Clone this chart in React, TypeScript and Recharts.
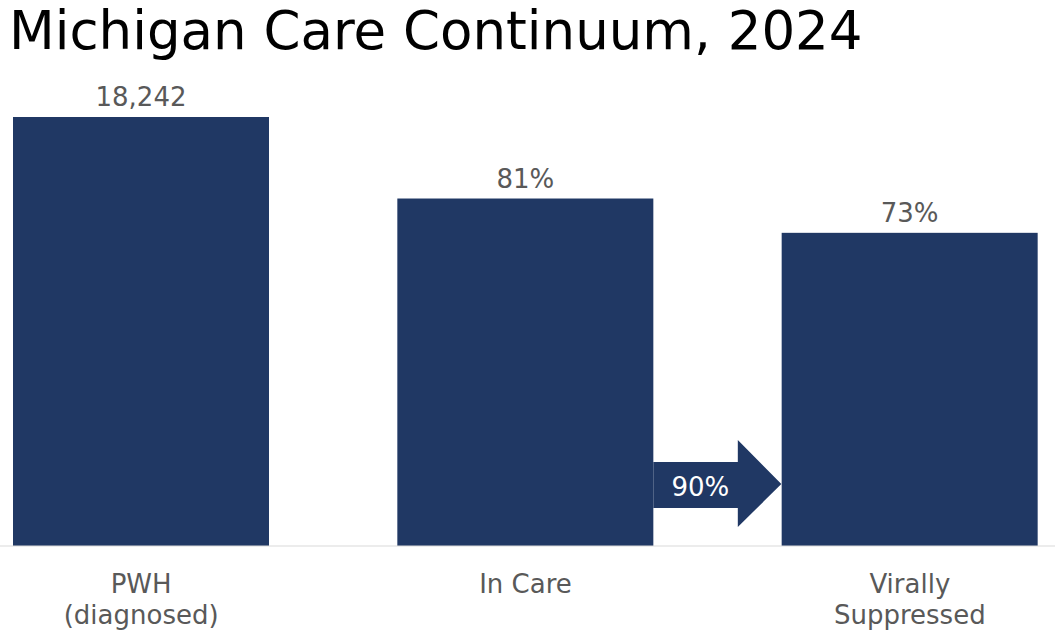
import { BarChart, Bar, XAxis, YAxis, LabelList } from 'recharts';

const categories = ['PWH\n(diagnosed)', 'In Care', 'Virally\nSuppressed'];
const percentValues = [100, 81, 73];
const valueLabels = ['18,242', '81%', '73%'];
const arrowLabels = [null, '90%', null];

const chartData = categories.map((name, i) => ({
  name,
  value: percentValues[i],
  label: valueLabels[i],
  arrow: arrowLabels[i],
}));

const NAVY = '#203864';
const GREY = '#595959';
const FONT = '"DejaVu Sans", Verdana, sans-serif';

function BarWithArrow(props: any) {
  const { x, y, width, height, payload } = props;
  const base = y + height;
  if (!payload.arrow) {
    return <rect x={x} y={y} width={width} height={height} fill={NAVY} />;
  }
  const x0 = x + width;
  const xNeck = x0 + width * 0.33;
  const xTip = x0 + width * 0.5;
  const points = [
    [x0, base - 84],
    [xNeck, base - 84],
    [xNeck, base - 106],
    [xTip, base - 62],
    [xNeck, base - 19],
    [xNeck, base - 38],
    [x0, base - 38],
  ]
    .map(p => p.join(','))
    .join(' ');
  return (
    <g>
      <rect x={x} y={y} width={width} height={height} fill={NAVY} />
      <polygon points={points} fill={NAVY} />
      <text
        x={x0 + 47}
        y={base - 50}
        textAnchor="middle"
        fill="#fff"
        style={{ fontSize: 26, fontFamily: FONT }}
      >
        {payload.arrow}
      </text>
    </g>
  );
}

function CategoryTick(props: any) {
  const { x, y, payload } = props;
  const lines = String(payload.value).split('\n');
  return (
    <text
      x={x}
      y={y}
      textAnchor="middle"
      fill={GREY}
      style={{ fontSize: 26, fontFamily: FONT }}
    >
      {lines.map((line, i) => (
        <tspan key={i} x={x} dy={i === 0 ? 45 : 31}>
          {line}
        </tspan>
      ))}
    </text>
  );
}

export default function App() {
  return (
    <div
      style={{
        position: 'absolute',
        left: 0,
        top: 0,
        width: 1055,
        height: 638,
        overflow: 'hidden',
        background: '#fff',
      }}
    >
      <div
        style={{
          position: 'absolute',
          left: 9,
          top: 0,
          fontFamily: FONT,
          fontSize: 53,
          lineHeight: '62px',
          color: '#000',
          whiteSpace: 'nowrap',
        }}
      >
        Michigan Care Continuum, 2024
      </div>
      <div style={{ position: 'absolute', left: -51, top: 0 }}>
        <BarChart
          width={1153}
          height={638}
          data={chartData}
          margin={{ top: 117, right: 0, left: 0, bottom: 0 }}
        >
          <XAxis
            dataKey="name"
            height={92}
            axisLine={{ stroke: '#d9d9d9', strokeWidth: 1 }}
            tickLine={false}
            tickSize={0}
            interval={0}
            tick={<CategoryTick />}
          />
          <YAxis hide domain={[0, 100]} />
          <Bar
            dataKey="value"
            barSize={256}
            fill={NAVY}
            shape={<BarWithArrow />}
            isAnimationActive={false}
          >
            <LabelList
              dataKey="label"
              position="top"
              offset={11}
              fill={GREY}
              style={{ fontSize: 26, fontFamily: FONT }}
            />
          </Bar>
        </BarChart>
      </div>
    </div>
  );
}
